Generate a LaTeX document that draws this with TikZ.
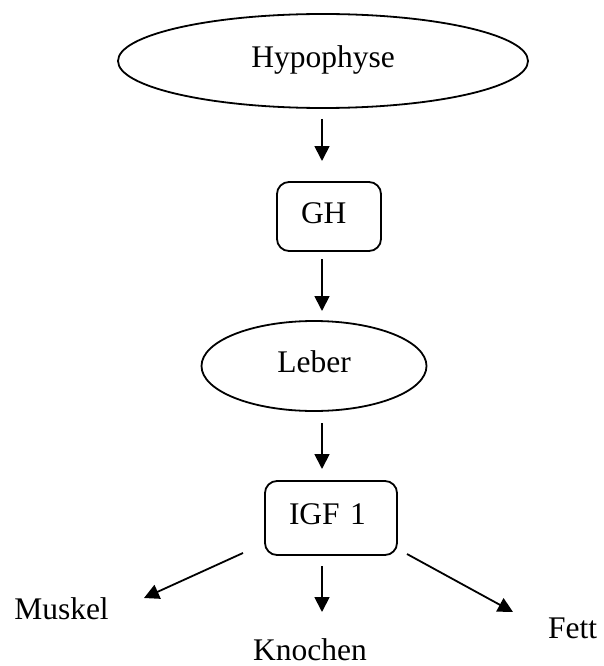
\documentclass[tikz,border=0pt]{standalone}
\usepackage{fontspec}
\setmainfont{Liberation Serif}
\usetikzlibrary{shapes.geometric,arrows.meta}
\begin{document}
\begin{tikzpicture}[x=1pt,y=-1pt,
  txt/.style={font=\fontsize{31.5}{38}\selectfont},
  ell/.style={txt, draw, ellipse, line width=1.8pt, inner sep=0pt, text height=21.5pt, text depth=8pt},
  rbox/.style={txt, draw, rectangle, rounded corners=12pt, line width=1.8pt, inner xsep=24pt, inner ysep=0pt, align=left, text height=21.5pt, text depth=8pt},
  lbl/.style={txt, inner sep=0pt, anchor=base},
  arr/.style={line width=1.8pt, -{Triangle[length=15pt,width=15pt]}}]
\useasboundingbox (0,0) rectangle (603,666);
% nodes
\node[ell, minimum width=410pt, minimum height=94pt] (hyp) at (323,61) {Hypophyse};
\node[rbox, minimum width=104pt, minimum height=69pt, text width=56pt] (gh) at (329,216.5) {GH};
\node[ell, minimum width=225pt, minimum height=90pt] (leber) at (314,366) {Leber};
\node[rbox, minimum width=132pt, minimum height=74pt, text width=84pt] (igf) at (331,518) {IGF 1};
\node[lbl] (muskel) at (61.5,619) {Muskel};
\node[lbl] (knochen) at (310,660) {Knochen};
\node[lbl] (fett) at (572.5,638) {Fett};
% arrow end points
\coordinate (a1s) at (322,119);
\coordinate (a1e) at (322,161);
\coordinate (a2s) at (322,259);
\coordinate (a2e) at (322,311);
\coordinate (a3s) at (322,423);
\coordinate (a3e) at (322,469);
\coordinate (amS) at (243,553);
\coordinate (amE) at (144,598);
\coordinate (akS) at (322,566);
\coordinate (akE) at (322,612);
\coordinate (afS) at (407,554);
\coordinate (afE) at (513,612);
% connectors
\draw[arr] (a1s) -- (a1e);
\draw[arr] (a2s) -- (a2e);
\draw[arr] (a3s) -- (a3e);
\draw[arr] (amS) -- (amE);
\draw[arr] (akS) -- (akE);
\draw[arr] (afS) -- (afE);
\end{tikzpicture}
\end{document}
